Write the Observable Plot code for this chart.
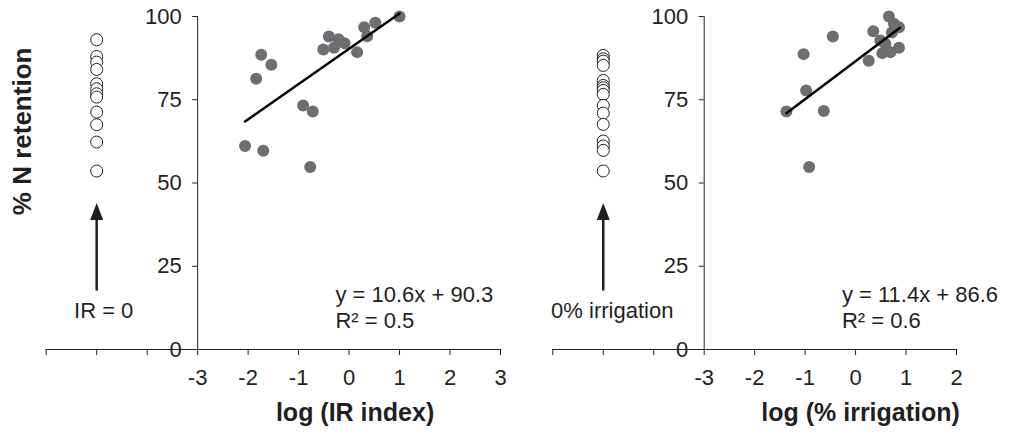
<!DOCTYPE html>
<html>
<head>
<meta charset="utf-8">
<script src="https://cdn.jsdelivr.net/npm/d3@7"></script>
<script src="https://cdn.jsdelivr.net/npm/@observablehq/plot@0.6"></script>
<style>
  html, body { margin: 0; padding: 0; background: #fff; }
  #wrap { display: flex; width: 1019px; height: 434px; }
  svg { font-family: "Liberation Sans", Arial, sans-serif; }
</style>
</head>
<body>
<div id="wrap"></div>
<script>
// ---- data ----
const yTicks = [0, 25, 50, 75, 100];
const leftXTicks = [-6, -5, -4, -3, -2, -1, 0, 1, 2, 3];
const rightXTicks = [-6, -5, -4, -3, -2, -1, 0, 1, 2];
const zeroX = -5; // position of the zero-value column

// Left panel: log (IR index) vs % N retention
const leftLogIR = [1.0, 0.52, 0.30, 0.36, 0.16, -0.40, -0.21, -0.09, -0.30, -0.51, -1.74, -1.54, -1.84, -0.91, -0.72, -2.06, -1.70, -0.77];
const leftRetention = [100, 98.1, 96.8, 94.1, 89.3, 94.0, 93.2, 92.0, 90.6, 90.1, 88.5, 85.5, 81.3, 73.3, 71.5, 61.1, 59.7, 54.8];
const leftZeroRetention = [93.0, 88.0, 86.3, 84.1, 79.8, 78.3, 76.8, 75.8, 71.3, 67.5, 62.3, 53.6];
const leftFit = {slope: 10.6, intercept: 90.3, r2: 0.5, xMin: -2.06, xMax: 1.0};

// Right panel: log (% irrigation) vs % N retention
const rightLogIrr = [0.66, 0.76, 0.86, 0.35, 0.72, 0.49, 0.59, 0.86, 0.53, 0.69, 0.26, -0.45, -1.03, -0.98, -1.37, -0.63, -0.92];
const rightRetention = [100, 97.8, 96.8, 95.6, 95.2, 92.8, 91.8, 90.6, 89.0, 89.3, 86.7, 94.0, 88.7, 77.8, 71.5, 71.6, 54.8];
const rightZeroRetention = [88.3, 87.3, 86.6, 85.3, 80.8, 79.3, 78.6, 77.8, 76.6, 73.3, 71.0, 67.6, 62.6, 61.1, 59.8, 53.6];
const rightFit = {slope: 11.4, intercept: 86.6, r2: 0.6, xMin: -1.37, xMax: 0.88};

const ink = "#231f20";
const dotFill = "#6d6e71";

const arrowHead = {
  draw(ctx) {
    ctx.moveTo(0, -9);
    ctx.lineTo(6.5, 8);
    ctx.lineTo(-6.5, 8);
    ctx.closePath();
  }
};

function panel({width, marginLeft, marginRight, xDomain, xTicks, xs, ys, zeros, fit, xLabel, xLabelDx, yLabel, zeroLabel, zeroLabelDx}) {
  const height = 434, marginTop = 16, marginBottom = 85;
  const pxPerUnit = (width - marginLeft - marginRight) / (xDomain[1] - xDomain[0]);
  const axisDx = (-3 - xDomain[0]) * pxPerUnit;
  const pts = xs.map((x, i) => ({x, y: ys[i]}));
  const zeroPts = zeros.map(y => ({x: zeroX, y}));
  const fitLine = [fit.xMin, fit.xMax].map(x => ({x, y: fit.slope * x + fit.intercept}));
  const eq = `y = ${fit.slope}x + ${fit.intercept}\nR² = ${fit.r2}`;
  return Plot.plot({
    width, height, marginTop, marginBottom, marginLeft, marginRight,
    style: {fontFamily: "'Liberation Sans', Arial, sans-serif", color: ink, background: "white"},
    x: {domain: xDomain},
    y: {domain: [0, 100]},
    marks: [
      // x axis line and ticks
      Plot.ruleY([0], {x1: xDomain[0], x2: xDomain[1], stroke: ink, strokeWidth: 1}),
      Plot.axisX({ticks: xTicks, tickFormat: d => (d >= -3 ? String(d) : ""), tickSize: 6, tickPadding: 14, fontSize: 22, fill: ink, stroke: ink, label: null}),
      // y axis placed at x = -3
      Plot.ruleX([-3], {y1: 0, y2: 100, stroke: ink, strokeWidth: 1}),
      Plot.axisY({ticks: yTicks, tickFormat: d => String(d), tickSize: 5, tickPadding: 11, fontSize: 22, fill: ink, stroke: ink, dx: axisDx, label: null}),
      // y label
      yLabel ? Plot.text([yLabel], {x: xDomain[0], y: 65.5, dx: -24, rotate: -90, fontSize: 26, fontWeight: "bold", fill: ink, textAnchor: "middle"}) : null,
      // x label
      Plot.text([xLabel], {x: 0, frameAnchor: "bottom", dx: xLabelDx, dy: 63, fontSize: 25, fontWeight: "bold", fill: ink, textAnchor: "middle", lineAnchor: "middle"}),
      // zero column
      Plot.dot(zeroPts, {x: "x", y: "y", r: 6, fill: "white", stroke: ink, strokeWidth: 1}),
      // arrow
      Plot.link([0], {x1: zeroX, x2: zeroX, y1: 17.7, y2: 39.5, stroke: ink, strokeWidth: 2.5}),
      Plot.dot([0], {x: zeroX, y: 41.3, symbol: arrowHead, fill: ink, stroke: null}),
      Plot.text([zeroLabel], {x: zeroX, y: 11.7, dx: zeroLabelDx, fontSize: 22, fill: ink, textAnchor: "middle"}),
      // data
      Plot.dot(pts, {x: "x", y: "y", r: 6, fill: dotFill, stroke: null}),
      Plot.line(fitLine, {x: "x", y: "y", stroke: "#000", strokeWidth: 2.5}),
      Plot.text([eq], {x: -0.27, y: 12.9, fontSize: 22, fill: ink, textAnchor: "start", lineAnchor: "middle", lineHeight: 1.18})
    ]
  });
}

const wrap = document.getElementById("wrap");
wrap.append(panel({
  width: 510, marginLeft: 45.7, marginRight: 10,
  xDomain: [-6, 3], xTicks: leftXTicks,
  xs: leftLogIR, ys: leftRetention, zeros: leftZeroRetention, fit: leftFit,
  xLabel: "log (IR index)", xLabelDx: 6, yLabel: "% N retention", zeroLabel: "IR = 0", zeroLabelDx: 7
}));
wrap.append(panel({
  width: 509, marginLeft: 42.3, marginRight: 63,
  xDomain: [-6, 2], xTicks: rightXTicks,
  xs: rightLogIrr, ys: rightRetention, zeros: rightZeroRetention, fit: rightFit,
  xLabel: "log (% irrigation)", xLabelDx: 5, yLabel: null, zeroLabel: "0% irrigation", zeroLabelDx: 9
}));
</script>
</body>
</html>
